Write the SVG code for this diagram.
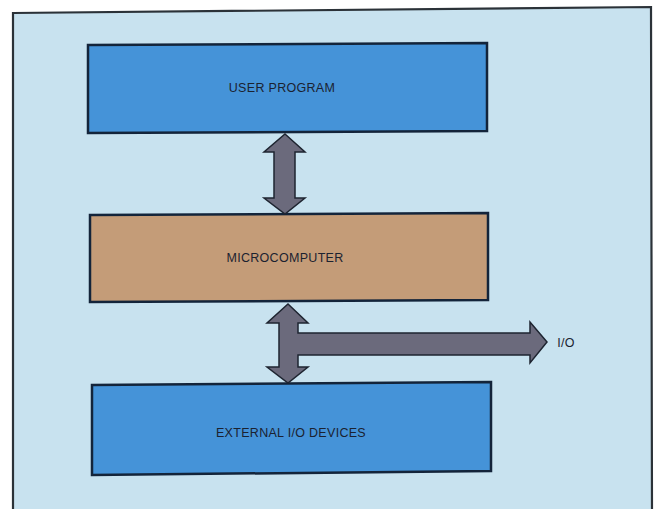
<svg xmlns="http://www.w3.org/2000/svg" width="657" height="509" viewBox="0 0 657 509">
<style>
.box{stroke:#13243a;stroke-width:2.5}
.blue{fill:#4593d8}
.tan{fill:#c49c78}
.arrow{fill:#6b6a7c;stroke:#1e2430;stroke-width:1.5;stroke-linejoin:miter}
.lbl{font-family:"Liberation Sans",Arial,sans-serif;font-size:12.5px;fill:#1b2230;text-anchor:middle;letter-spacing:0.3px}
</style>
<rect width="657" height="509" fill="#ffffff"/>
<polygon points="13,13 651,7 652,515 13,515" fill="#c8e2ef" stroke="#2b3238" stroke-width="2.2"/>
<g id="user-program">
<polygon class="box blue" points="88,45 487,43 487,131 88,133"/>
<text class="lbl" x="282" y="92">USER PROGRAM</text>
</g>
<g id="microcomputer">
<polygon class="box tan" points="90,215 488,213 488,300 90,302"/>
<text class="lbl" x="285" y="262">MICROCOMPUTER</text>
</g>
<g id="external-io">
<polygon class="box blue" points="92,385 491,382 491,471 92,475"/>
<text class="lbl" x="291" y="437">EXTERNAL I/O DEVICES</text>
</g>
<g id="connectors">
<polygon class="arrow" points="285,134 305,152 295,152 295,198 305,198 285,214 264,198 274,198 274,152 264,152"/>
<polygon class="arrow" points="288,304 308,323 298,323 298,333 530,333 530,322 547,342 530,363 530,355 298,355 298,367 308,367 288,383 267,367 279,367 279,323 267,323"/>
<text class="lbl" x="566" y="347">I/O</text>
</g>
</svg>
